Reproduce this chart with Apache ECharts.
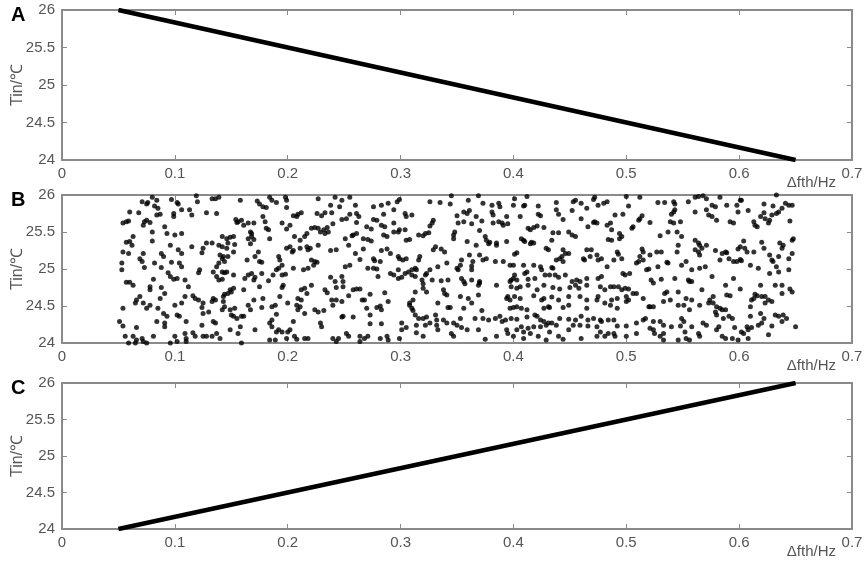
<!DOCTYPE html>
<html>
<head>
<meta charset="utf-8">
<script src="https://cdn.jsdelivr.net/npm/echarts@6/dist/echarts.min.js"></script>
<style>html,body{margin:0;padding:0;background:#fff}#c{width:865px;height:563px}</style>
</head>
<body>
<div id="c"></div>
<script>
// ---- data ----
var panelLetters = ['A', 'B', 'C'];
var xTicks = [0, 0.1, 0.2, 0.3, 0.4, 0.5, 0.6, 0.7];
var yTicks = [24, 24.5, 25, 25.5, 26];
var xName = 'Δfth/Hz';
var yName = 'Tin/℃';
var lineA = [[0.05, 26], [0.65, 24]];
var lineC = [[0.05, 24], [0.65, 26]];
var scatterB = [
[0.080,25.97],[0.084,25.93],[0.097,25.94],[0.102,25.90],[0.119,25.99],[0.120,25.91],[0.071,25.91],[0.075,25.88],[0.076,25.90],[0.082,25.85],
[0.085,25.82],[0.103,25.88],[0.106,25.80],[0.113,25.80],[0.115,25.73],[0.060,25.77],[0.068,25.76],[0.084,25.73],[0.087,25.74],[0.099,25.75],
[0.099,25.71],[0.128,25.76],[0.054,25.62],[0.057,25.64],[0.059,25.65],[0.073,25.64],[0.075,25.66],[0.072,25.59],[0.078,25.63],[0.091,25.57],
[0.080,25.50],[0.093,25.48],[0.100,25.46],[0.106,25.48],[0.063,25.44],[0.057,25.36],[0.060,25.37],[0.062,25.32],[0.080,25.38],[0.096,25.32],
[0.115,25.30],[0.125,25.28],[0.128,25.35],[0.103,25.26],[0.106,25.21],[0.124,25.22],[0.054,25.23],[0.059,25.21],[0.072,25.21],[0.069,25.14],
[0.071,25.10],[0.088,25.21],[0.090,25.17],[0.082,25.08],[0.097,25.09],[0.104,25.08],[0.106,25.03],[0.053,25.08],[0.053,24.99],[0.073,25.02],
[0.088,25.02],[0.094,24.95],[0.096,24.90],[0.122,24.99],[0.121,24.95],[0.099,24.86],[0.102,24.87],[0.109,24.85],[0.112,24.76],[0.057,24.82],
[0.060,24.82],[0.063,24.78],[0.081,24.86],[0.078,24.76],[0.078,24.72],[0.088,24.75],[0.091,24.67],[0.109,24.63],[0.116,24.64],[0.118,24.60],
[0.121,24.58],[0.066,24.58],[0.065,24.54],[0.069,24.63],[0.072,24.54],[0.075,24.47],[0.078,24.51],[0.087,24.60],[0.100,24.51],[0.106,24.54],
[0.125,24.54],[0.054,24.47],[0.085,24.47],[0.090,24.40],[0.093,24.36],[0.102,24.38],[0.104,24.36],[0.124,24.48],[0.125,24.40],[0.130,24.42],
[0.051,24.29],[0.054,24.23],[0.066,24.21],[0.084,24.29],[0.091,24.27],[0.091,24.22],[0.110,24.29],[0.124,24.24],[0.056,24.09],[0.063,24.09],
[0.066,24.04],[0.071,24.06],[0.072,24.02],[0.081,24.09],[0.100,24.09],[0.109,24.13],[0.110,24.06],[0.116,24.14],[0.118,24.09],[0.125,24.09],
[0.128,24.09],[0.059,24.00],[0.065,24.00],[0.075,24.00],[0.096,24.00],[0.102,24.02],[0.110,24.02],
[0.133,25.95],[0.136,25.95],[0.139,25.97],[0.158,25.93],[0.173,25.92],[0.175,25.88],[0.178,25.84],[0.181,25.83],[0.184,25.97],[0.186,25.93],
[0.190,25.90],[0.198,25.97],[0.199,25.93],[0.199,25.83],[0.137,25.75],[0.154,25.67],[0.156,25.64],[0.155,25.63],[0.159,25.66],[0.161,25.59],
[0.165,25.62],[0.170,25.62],[0.178,25.71],[0.180,25.64],[0.181,25.55],[0.183,25.53],[0.195,25.62],[0.202,25.59],[0.205,25.72],[0.209,25.74],
[0.212,25.76],[0.208,25.71],[0.167,25.50],[0.168,25.48],[0.168,25.44],[0.165,25.41],[0.170,25.40],[0.184,25.41],[0.199,25.54],[0.206,25.44],
[0.211,25.39],[0.215,25.44],[0.217,25.48],[0.142,25.44],[0.146,25.41],[0.149,25.43],[0.152,25.44],[0.133,25.35],[0.139,25.32],[0.142,25.30],
[0.146,25.28],[0.147,25.35],[0.153,25.33],[0.167,25.34],[0.199,25.28],[0.202,25.30],[0.205,25.25],[0.211,25.28],[0.204,25.23],[0.217,25.30],
[0.218,25.26],[0.152,25.23],[0.140,25.19],[0.142,25.14],[0.143,25.17],[0.147,25.17],[0.144,25.10],[0.139,25.08],[0.137,25.03],[0.134,24.96],
[0.164,25.12],[0.171,25.17],[0.174,25.23],[0.175,25.10],[0.177,25.09],[0.192,25.17],[0.193,25.12],[0.195,25.05],[0.192,25.01],[0.190,24.99],
[0.205,25.01],[0.214,24.99],[0.218,25.01],[0.142,24.96],[0.144,24.95],[0.146,24.96],[0.152,24.92],[0.137,24.90],[0.139,24.85],[0.142,24.86],
[0.162,24.87],[0.165,24.92],[0.168,24.94],[0.170,24.85],[0.171,24.89],[0.177,24.94],[0.183,24.84],[0.187,24.92],[0.195,24.92],[0.198,24.93],
[0.175,24.76],[0.196,24.78],[0.195,24.75],[0.212,24.72],[0.215,24.74],[0.217,24.67],[0.149,24.72],[0.150,24.69],[0.147,24.67],[0.144,24.66],
[0.143,24.63],[0.152,24.74],[0.161,24.72],[0.178,24.60],[0.134,24.60],[0.136,24.58],[0.133,24.56],[0.143,24.56],[0.170,24.58],[0.193,24.63],
[0.200,24.54],[0.209,24.60],[0.212,24.58],[0.144,24.49],[0.142,24.45],[0.149,24.45],[0.153,24.47],[0.165,24.51],[0.167,24.45],[0.177,24.48],
[0.186,24.49],[0.189,24.51],[0.208,24.51],[0.211,24.49],[0.209,24.45],[0.150,24.38],[0.152,24.36],[0.155,24.33],[0.159,24.36],[0.161,24.36],
[0.190,24.39],[0.215,24.40],[0.134,24.29],[0.136,24.27],[0.137,24.13],[0.149,24.18],[0.158,24.22],[0.171,24.18],[0.184,24.27],[0.186,24.22],
[0.186,24.31],[0.205,24.29],[0.190,24.15],[0.192,24.18],[0.195,24.15],[0.202,24.18],[0.200,24.15],[0.133,24.09],[0.140,24.06],[0.156,24.13],
[0.159,24.00],[0.184,24.04],[0.189,24.04],[0.199,24.06],[0.206,24.09],[0.208,24.05],[0.215,24.06],[0.218,24.06],
[0.227,25.95],[0.242,25.97],[0.248,25.93],[0.255,25.97],[0.238,25.86],[0.246,25.84],[0.260,25.86],[0.276,25.84],[0.283,25.86],[0.289,25.89],
[0.297,25.91],[0.299,25.94],[0.226,25.75],[0.230,25.72],[0.233,25.76],[0.239,25.76],[0.255,25.74],[0.261,25.75],[0.263,25.71],[0.276,25.67],
[0.279,25.66],[0.285,25.74],[0.294,25.80],[0.304,25.75],[0.305,25.71],[0.221,25.55],[0.224,25.56],[0.227,25.55],[0.229,25.50],[0.232,25.53],
[0.235,25.56],[0.236,25.50],[0.233,25.48],[0.240,25.61],[0.248,25.67],[0.252,25.68],[0.261,25.63],[0.270,25.57],[0.274,25.54],[0.283,25.59],
[0.286,25.57],[0.294,25.62],[0.298,25.50],[0.299,25.53],[0.294,25.50],[0.304,25.53],[0.257,25.45],[0.258,25.46],[0.261,25.48],[0.251,25.41],
[0.254,25.32],[0.267,25.41],[0.271,25.40],[0.274,25.38],[0.285,25.46],[0.288,25.44],[0.305,25.39],[0.227,25.32],[0.238,25.25],[0.243,25.26],
[0.220,25.28],[0.260,25.21],[0.267,25.27],[0.283,25.25],[0.288,25.27],[0.291,25.21],[0.298,25.17],[0.299,25.14],[0.302,25.12],[0.305,25.14],
[0.221,25.12],[0.224,25.10],[0.223,25.05],[0.226,25.09],[0.255,25.05],[0.251,25.03],[0.264,25.13],[0.276,25.14],[0.277,25.11],[0.282,25.10],
[0.271,25.01],[0.276,25.01],[0.279,25.00],[0.298,24.99],[0.291,24.94],[0.294,24.92],[0.298,24.87],[0.301,24.89],[0.304,24.94],[0.307,24.96],
[0.238,24.89],[0.242,24.83],[0.248,24.90],[0.249,24.83],[0.243,24.75],[0.249,24.76],[0.280,24.90],[0.221,24.78],[0.233,24.72],[0.235,24.68],
[0.258,24.72],[0.261,24.73],[0.264,24.73],[0.254,24.64],[0.273,24.66],[0.286,24.68],[0.289,24.56],[0.239,24.58],[0.240,24.51],[0.243,24.58],
[0.248,24.56],[0.266,24.58],[0.268,24.58],[0.270,24.47],[0.279,24.48],[0.282,24.50],[0.283,24.45],[0.308,24.54],[0.224,24.45],[0.227,24.42],
[0.232,24.44],[0.258,24.35],[0.273,24.38],[0.248,24.35],[0.249,24.36],[0.301,24.27],[0.229,24.27],[0.230,24.22],[0.273,24.26],[0.283,24.26],
[0.305,24.21],[0.240,24.06],[0.245,24.06],[0.243,24.02],[0.252,24.13],[0.254,24.09],[0.264,24.09],[0.264,24.02],[0.268,24.06],[0.271,24.09],
[0.282,24.06],[0.288,24.09],[0.289,24.04],[0.299,24.06],[0.301,24.18],
[0.345,25.99],[0.369,25.99],[0.326,25.91],[0.335,25.90],[0.344,25.88],[0.360,25.93],[0.373,25.89],[0.381,25.86],[0.387,25.89],[0.388,25.84],
[0.310,25.73],[0.350,25.72],[0.356,25.77],[0.359,25.75],[0.361,25.79],[0.367,25.71],[0.381,25.77],[0.382,25.73],[0.387,25.64],[0.390,25.62],
[0.394,25.71],[0.329,25.66],[0.328,25.62],[0.326,25.58],[0.351,25.62],[0.356,25.64],[0.363,25.61],[0.372,25.65],[0.382,25.62],[0.391,25.59],
[0.395,25.61],[0.316,25.46],[0.322,25.48],[0.325,25.49],[0.320,25.45],[0.348,25.50],[0.347,25.46],[0.347,25.41],[0.359,25.37],[0.370,25.52],
[0.375,25.44],[0.376,25.39],[0.379,25.36],[0.385,25.35],[0.394,25.37],[0.308,25.40],[0.331,25.30],[0.329,25.26],[0.336,25.27],[0.339,25.23],
[0.367,25.32],[0.378,25.34],[0.385,25.32],[0.361,25.19],[0.370,25.19],[0.373,25.12],[0.376,25.14],[0.364,25.10],[0.384,25.10],[0.391,25.10],
[0.317,25.17],[0.316,25.12],[0.354,25.12],[0.353,25.05],[0.350,25.01],[0.351,24.99],[0.341,25.08],[0.333,25.03],[0.313,25.01],[0.310,24.99],
[0.314,24.99],[0.326,24.99],[0.323,24.94],[0.322,24.92],[0.310,24.92],[0.313,24.90],[0.363,24.99],[0.363,25.04],[0.354,24.87],[0.356,24.83],
[0.357,24.80],[0.363,24.85],[0.370,24.83],[0.370,24.81],[0.369,24.78],[0.385,24.78],[0.397,24.83],[0.319,24.85],[0.320,24.80],[0.328,24.85],
[0.336,24.84],[0.342,24.85],[0.320,24.74],[0.313,24.69],[0.323,24.69],[0.338,24.72],[0.339,24.67],[0.341,24.65],[0.353,24.63],[0.369,24.65],
[0.360,24.60],[0.395,24.63],[0.394,24.60],[0.397,24.58],[0.311,24.58],[0.308,24.51],[0.333,24.54],[0.342,24.48],[0.344,24.48],[0.356,24.47],
[0.310,24.47],[0.311,24.44],[0.363,24.54],[0.372,24.44],[0.397,24.47],[0.313,24.38],[0.316,24.33],[0.320,24.33],[0.323,24.35],[0.331,24.38],
[0.332,24.31],[0.332,24.24],[0.338,24.31],[0.341,24.27],[0.347,24.27],[0.350,24.24],[0.353,24.33],[0.366,24.33],[0.373,24.33],[0.378,24.31],
[0.384,24.33],[0.388,24.36],[0.390,24.29],[0.393,24.31],[0.314,24.24],[0.322,24.24],[0.326,24.27],[0.354,24.21],[0.314,24.14],[0.320,24.09],
[0.333,24.18],[0.345,24.13],[0.347,24.09],[0.359,24.18],[0.369,24.18],[0.375,24.05],[0.385,24.09],[0.394,24.18],[0.395,24.13],
[0.401,25.95],[0.412,25.98],[0.400,25.86],[0.409,25.85],[0.410,25.86],[0.422,25.85],[0.438,25.90],[0.453,25.91],[0.455,25.93],[0.460,25.89],
[0.465,25.82],[0.471,25.94],[0.472,25.97],[0.475,25.86],[0.480,25.89],[0.483,25.91],[0.406,25.71],[0.422,25.74],[0.424,25.72],[0.438,25.80],
[0.440,25.74],[0.444,25.67],[0.452,25.79],[0.460,25.68],[0.466,25.57],[0.471,25.63],[0.472,25.64],[0.474,25.62],[0.483,25.59],[0.486,25.62],
[0.413,25.55],[0.415,25.53],[0.418,25.56],[0.421,25.58],[0.427,25.56],[0.435,25.49],[0.440,25.49],[0.449,25.50],[0.452,25.46],[0.455,25.44],
[0.407,25.41],[0.409,25.39],[0.410,25.37],[0.415,25.34],[0.416,25.36],[0.418,25.35],[0.429,25.28],[0.431,25.26],[0.434,25.39],[0.444,25.26],
[0.446,25.21],[0.443,25.17],[0.449,25.21],[0.465,25.26],[0.469,25.26],[0.484,25.40],[0.403,25.22],[0.401,25.20],[0.463,25.12],[0.462,25.14],
[0.468,25.17],[0.474,25.19],[0.478,25.14],[0.475,25.12],[0.483,25.03],[0.441,25.14],[0.438,25.12],[0.444,25.10],[0.397,25.05],[0.400,25.05],
[0.409,25.05],[0.418,25.05],[0.424,25.03],[0.425,24.99],[0.434,25.02],[0.435,25.01],[0.410,24.94],[0.412,24.96],[0.398,24.85],[0.400,24.87],
[0.403,24.85],[0.401,24.92],[0.413,24.86],[0.419,24.87],[0.428,24.92],[0.432,24.92],[0.437,24.92],[0.440,24.89],[0.446,24.92],[0.452,24.83],
[0.456,24.85],[0.459,24.83],[0.465,24.87],[0.475,24.87],[0.478,24.90],[0.398,24.76],[0.403,24.74],[0.406,24.76],[0.413,24.78],[0.421,24.72],
[0.427,24.78],[0.435,24.75],[0.441,24.73],[0.450,24.75],[0.455,24.78],[0.458,24.74],[0.465,24.78],[0.477,24.76],[0.481,24.72],[0.486,24.76],
[0.401,24.63],[0.406,24.60],[0.418,24.64],[0.425,24.58],[0.427,24.60],[0.434,24.62],[0.440,24.58],[0.449,24.63],[0.459,24.63],[0.465,24.58],
[0.474,24.58],[0.475,24.63],[0.400,24.48],[0.403,24.49],[0.407,24.47],[0.412,24.45],[0.427,24.47],[0.431,24.49],[0.432,24.48],[0.444,24.48],
[0.449,24.51],[0.465,24.47],[0.481,24.54],[0.486,24.51],[0.398,24.33],[0.403,24.32],[0.412,24.35],[0.419,24.38],[0.421,24.36],[0.424,24.31],
[0.427,24.29],[0.431,24.27],[0.434,24.27],[0.441,24.33],[0.449,24.32],[0.455,24.31],[0.460,24.36],[0.466,24.31],[0.471,24.33],[0.477,24.31],
[0.478,24.29],[0.484,24.31],[0.403,24.18],[0.407,24.22],[0.409,24.15],[0.413,24.20],[0.415,24.13],[0.418,24.22],[0.424,24.22],[0.429,24.24],
[0.432,24.15],[0.438,24.24],[0.449,24.18],[0.453,24.24],[0.459,24.24],[0.466,24.23],[0.474,24.22],[0.477,24.15],[0.400,24.09],[0.409,24.06],
[0.422,24.09],[0.429,24.04],[0.440,24.09],[0.444,24.05],[0.460,24.06],[0.474,24.09],[0.481,24.09],[0.484,24.13],
[0.500,25.98],[0.512,25.97],[0.528,25.90],[0.534,25.90],[0.542,25.91],[0.543,25.88],[0.555,25.91],[0.561,25.97],[0.564,25.98],[0.568,25.99],
[0.571,25.95],[0.490,25.73],[0.497,25.74],[0.502,25.85],[0.512,25.68],[0.514,25.72],[0.511,25.66],[0.506,25.57],[0.505,25.55],[0.521,25.63],
[0.540,25.74],[0.542,25.77],[0.543,25.80],[0.539,25.64],[0.542,25.62],[0.548,25.64],[0.561,25.77],[0.571,25.80],[0.573,25.73],[0.487,25.53],
[0.494,25.48],[0.496,25.44],[0.494,25.41],[0.530,25.45],[0.537,25.50],[0.545,25.50],[0.549,25.44],[0.561,25.39],[0.564,25.35],[0.565,25.32],
[0.567,25.28],[0.571,25.32],[0.487,25.39],[0.492,25.23],[0.493,25.20],[0.496,25.14],[0.514,25.27],[0.515,25.23],[0.512,25.17],[0.511,25.10],
[0.509,25.08],[0.515,25.12],[0.521,25.19],[0.527,25.23],[0.531,25.23],[0.545,25.23],[0.546,25.32],[0.561,25.26],[0.564,25.23],[0.565,25.19],
[0.489,25.12],[0.518,24.99],[0.520,25.00],[0.528,25.03],[0.536,25.09],[0.537,25.08],[0.549,25.05],[0.553,25.10],[0.558,24.99],[0.565,25.01],
[0.570,25.03],[0.497,24.94],[0.499,24.92],[0.503,24.94],[0.522,24.85],[0.531,24.86],[0.524,24.81],[0.543,24.87],[0.555,24.85],[0.556,24.83],
[0.489,24.76],[0.493,24.76],[0.496,24.72],[0.499,24.74],[0.502,24.73],[0.506,24.67],[0.500,24.63],[0.509,24.67],[0.515,24.60],[0.534,24.67],
[0.536,24.69],[0.546,24.69],[0.558,24.83],[0.567,24.72],[0.492,24.60],[0.487,24.58],[0.492,24.47],[0.500,24.56],[0.502,24.58],[0.520,24.49],
[0.521,24.49],[0.524,24.49],[0.533,24.56],[0.539,24.58],[0.546,24.51],[0.551,24.51],[0.553,24.60],[0.558,24.58],[0.565,24.51],[0.573,24.54],
[0.556,24.45],[0.489,24.31],[0.517,24.33],[0.515,24.31],[0.524,24.29],[0.530,24.29],[0.533,24.24],[0.549,24.33],[0.551,24.29],[0.558,24.22],
[0.568,24.27],[0.571,24.24],[0.492,24.23],[0.500,24.23],[0.509,24.27],[0.509,24.13],[0.521,24.20],[0.524,24.18],[0.525,24.13],[0.530,24.09],
[0.533,24.13],[0.540,24.22],[0.548,24.23],[0.552,24.15],[0.564,24.13],[0.565,24.09],[0.489,24.13],[0.490,24.09],[0.500,24.09],[0.533,24.04],
[0.546,24.04],[0.553,24.06],[0.556,24.04],
[0.583,25.97],[0.601,25.93],[0.633,26.00],[0.576,25.86],[0.579,25.84],[0.589,25.86],[0.598,25.86],[0.602,25.93],[0.599,25.77],[0.608,25.79],
[0.622,25.88],[0.630,25.85],[0.635,25.77],[0.638,25.82],[0.641,25.89],[0.644,25.86],[0.647,25.86],[0.576,25.71],[0.580,25.66],[0.592,25.64],
[0.595,25.62],[0.613,25.64],[0.614,25.59],[0.616,25.57],[0.619,25.71],[0.622,25.76],[0.623,25.68],[0.626,25.62],[0.627,25.66],[0.629,25.73],
[0.633,25.75],[0.645,25.65],[0.604,25.38],[0.601,25.30],[0.599,25.27],[0.605,25.28],[0.607,25.23],[0.613,25.23],[0.620,25.36],[0.622,25.28],
[0.636,25.35],[0.639,25.32],[0.638,25.28],[0.647,25.39],[0.648,25.41],[0.579,25.25],[0.585,25.21],[0.588,25.23],[0.589,25.22],[0.583,25.12],
[0.591,25.14],[0.595,25.10],[0.598,25.10],[0.601,25.13],[0.602,25.11],[0.610,25.05],[0.617,25.01],[0.627,25.19],[0.629,25.12],[0.630,25.10],
[0.635,25.17],[0.644,25.14],[0.647,25.21],[0.633,25.03],[0.635,24.96],[0.644,24.99],[0.627,24.94],[0.576,24.90],[0.595,24.87],[0.588,24.78],
[0.601,24.73],[0.619,24.78],[0.632,24.78],[0.638,24.78],[0.645,24.73],[0.647,24.69],[0.638,24.67],[0.577,24.63],[0.589,24.65],[0.592,24.64],
[0.614,24.66],[0.616,24.64],[0.613,24.60],[0.611,24.58],[0.620,24.63],[0.623,24.63],[0.626,24.58],[0.629,24.56],[0.623,24.54],[0.577,24.54],
[0.574,24.58],[0.580,24.49],[0.583,24.47],[0.585,24.45],[0.588,24.45],[0.610,24.49],[0.579,24.42],[0.580,24.38],[0.586,24.33],[0.591,24.36],
[0.594,24.33],[0.610,24.36],[0.619,24.40],[0.622,24.33],[0.632,24.38],[0.635,24.36],[0.639,24.38],[0.642,24.33],[0.582,24.22],[0.580,24.18],
[0.596,24.21],[0.607,24.22],[0.608,24.18],[0.602,24.15],[0.604,24.13],[0.611,24.21],[0.617,24.24],[0.620,24.27],[0.629,24.23],[0.638,24.29],
[0.650,24.22],[0.585,24.09],[0.588,24.06],[0.594,24.06],[0.599,24.04],[0.608,24.06],[0.626,24.11]
];

// ---- layout / style ----
var gridTops = [10, 195, 383];
var gridHeights = [150, 148, 146];
var gray = '#8a8a8a';
var labelColor = '#555555';
var fontFamily = '"Liberation Sans", Arial, sans-serif';

var grids = [], xAxes = [], yAxes = [], titles = [];
for (var i = 0; i < 3; i++) {
  grids.push({ left: 62, right: 13, top: gridTops[i], height: gridHeights[i], containLabel: false, outerBoundsMode: 'none' });
  titles.push({ text: panelLetters[i], left: 6, top: gridTops[i] - 10,
    textStyle: { fontSize: 20, fontWeight: 'bold', color: '#000', fontFamily: fontFamily } });
  xAxes.push({
    gridIndex: i, type: 'value', position: 'bottom', min: xTicks[0], max: xTicks[xTicks.length - 1], interval: 0.1,
    axisLine: { show: true, onZero: false, lineStyle: { color: gray, width: 2 } },
    axisTick: { show: true, inside: true, length: 5, lineStyle: { color: gray, width: 1 } },
    axisLabel: { show: true, color: labelColor, fontSize: 15, fontFamily: fontFamily, margin: 6,
      formatter: function (v) { return String(+v.toFixed(1)); } },
    splitLine: { show: false },
    name: xName, nameLocation: 'end', nameGap: -16, nameMoveOverlap: false,
    nameTextStyle: { color: labelColor, fontSize: 15, fontFamily: fontFamily, align: 'right', verticalAlign: 'top', padding: [15, 0, 0, 0] }
  });
  xAxes.push({
    gridIndex: i, type: 'value', position: 'top', min: xTicks[0], max: xTicks[xTicks.length - 1], interval: 0.1,
    axisLine: { show: true, onZero: false, lineStyle: { color: gray, width: 2 } },
    axisTick: { show: true, inside: true, length: 5, lineStyle: { color: gray, width: 1 } },
    axisLabel: { show: false }, splitLine: { show: false }
  });
  yAxes.push({
    gridIndex: i, type: 'value', position: 'left', min: yTicks[0], max: yTicks[yTicks.length - 1], interval: 0.5,
    axisLine: { show: true, onZero: false, lineStyle: { color: gray, width: 2 } },
    axisTick: { show: true, inside: true, length: 5, lineStyle: { color: gray, width: 1 } },
    axisLabel: { show: true, color: labelColor, fontSize: 15, fontFamily: fontFamily, margin: 7 },
    splitLine: { show: false },
    name: yName, nameLocation: 'middle', nameGap: 36, nameRotate: 90, nameMoveOverlap: false,
    nameTextStyle: { color: labelColor, fontSize: 16, fontFamily: fontFamily }
  });
  yAxes.push({
    gridIndex: i, type: 'value', position: 'right', min: yTicks[0], max: yTicks[yTicks.length - 1], interval: 0.5,
    axisLine: { show: true, onZero: false, lineStyle: { color: gray, width: 2 } },
    axisTick: { show: true, inside: true, length: 5, lineStyle: { color: gray, width: 1 } },
    axisLabel: { show: false }, splitLine: { show: false }
  });
}

var chart = echarts.init(document.getElementById('c'), null, { renderer: 'canvas' });
chart.setOption({
  animation: false,
  backgroundColor: '#fff',
  title: titles,
  grid: grids,
  xAxis: xAxes,
  yAxis: yAxes,
  series: [
    { type: 'line', xAxisIndex: 0, yAxisIndex: 0, data: lineA, showSymbol: false, symbol: 'none',
      lineStyle: { color: '#000', width: 4.5 } },
    { type: 'scatter', xAxisIndex: 2, yAxisIndex: 2, data: scatterB, symbolSize: 5,
      itemStyle: { color: '#000' } },
    { type: 'line', xAxisIndex: 4, yAxisIndex: 4, data: lineC, showSymbol: false, symbol: 'none',
      lineStyle: { color: '#000', width: 4.5 } }
  ]
});
</script>
</body>
</html>
